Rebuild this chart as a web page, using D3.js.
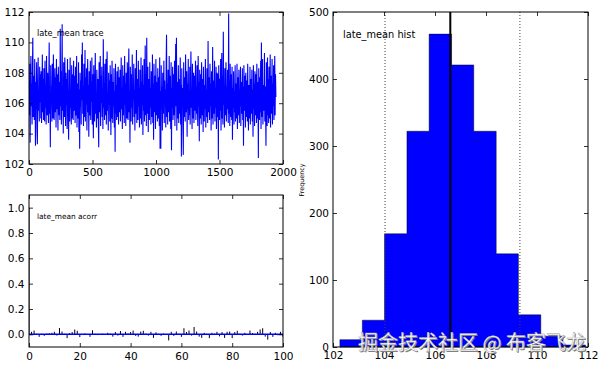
<!DOCTYPE html>
<html><head><meta charset="utf-8">
<script src="https://cdn.jsdelivr.net/npm/d3@7"></script>
<style>
html,body{margin:0;padding:0;background:#fff;}
svg{display:block;font-family:"DejaVu Sans",sans-serif;}
</style></head>
<body>
<svg id="chart" width="602" height="368"></svg>
<script>
// ---------------- data ----------------
const traceStep = 3; // iteration spacing of the sampled trace values below
const traceValues = [
107.5,105.2,108.6,103.4,106.9,109.1,105.8,107.3,104.6,108.2,110.3,105.1,107.8,106.2,104.9,108.9,106.5,103.2,107.4,105.6,
108.7,104.3,103.3,107.0,109.0,105.5,106.8,104.8,108.4,106.1,107.9,105.0,108.1,104.7,106.6,109.2,105.4,107.6,104.9,108.3,
106.0,104.8,108.8,105.7,107.2,104.6,109.1,106.4,105.2,108.0,106.9,104.7,107.5,110.0,105.3,106.7,103.1,108.5,105.9,107.1,
104.8,108.6,106.3,105.0,109.2,107.0,104.9,106.5,108.3,105.4,107.7,104.4,108.9,106.0,105.6,107.9,104.2,108.4,106.8,105.2,
107.4,104.9,110.9,105.8,108.1,104.6,107.2,111.2,105.5,106.9,104.0,108.7,106.2,105.1,109.0,106.6,104.5,108.0,105.9,107.6,
104.3,108.9,106.1,105.3,103.6,108.2,107.0,104.8,109.0,105.7,106.8,104.6,108.5,106.3,105.0,107.9,104.9,108.8,106.4,105.5,
107.8,104.7,108.4,106.0,105.2,109.1,104.4,107.3,106.6,105.0,108.7,104.1,106.9,103.0,108.0,105.8,107.5,104.6,109.2,106.2,
110.0,105.3,107.1,104.5,108.6,106.4,105.1,109.5,104.8,107.7,105.9,108.3,104.2,106.8,108.9,105.4,107.2,103.8,108.1,106.0,
105.2,108.8,104.9,107.4,106.1,109.0,104.6,107.9,105.6,103.7,108.5,106.7,104.8,107.0,109.3,105.3,106.5,104.4,108.2,106.9,
105.0,107.6,104.7,103.1,108.7,106.2,105.4,109.1,104.5,107.8,106.0,108.4,105.1,106.9,104.3,110.2,105.7,107.3,104.9,108.6,
106.4,105.2,108.9,104.6,107.1,109.4,105.5,106.7,104.2,108.0,105.9,107.5,104.8,108.5,106.3,103.9,107.9,105.0,108.8,106.1,
104.7,107.4,105.8,108.3,104.4,106.8,102.8,108.6,105.3,107.2,104.9,108.1,106.0,105.1,108.4,104.6,107.7,106.5,105.4,108.2,
104.8,107.0,109.0,105.6,106.4,104.3,108.5,106.9,105.2,107.8,104.7,109.1,105.9,107.3,104.5,108.0,106.2,105.0,108.7,106.6,
104.9,107.5,109.6,105.4,106.8,103.4,108.4,106.1,104.8,107.9,105.7,109.2,104.6,107.1,106.3,108.6,105.1,106.9,104.2,108.3,
106.0,105.3,109.5,104.7,107.6,106.2,104.9,108.8,105.8,107.0,104.4,108.2,106.5,105.0,109.0,104.6,107.4,105.9,108.5,103.9,
107.2,105.5,108.9,104.8,106.7,109.8,105.2,107.9,104.5,110.3,106.1,105.3,108.4,104.1,107.6,106.4,104.9,108.7,105.7,107.0,
104.6,108.1,106.3,105.1,109.2,104.7,107.3,103.6,108.6,106.0,105.4,107.8,104.3,108.9,106.6,105.2,107.4,104.8,108.3,106.2,
105.0,107.7,104.5,109.0,103.0,106.8,103.0,108.5,105.6,107.1,104.2,108.0,106.4,105.3,108.8,104.7,107.5,105.9,106.9,104.4,
108.6,110.5,105.1,107.3,104.6,108.2,106.0,105.4,109.1,104.8,107.8,106.3,104.3,108.7,102.9,107.0,105.7,108.4,104.9,106.6,
107.9,105.2,108.8,104.5,106.7,109.9,105.8,110.3,104.2,107.4,106.1,105.0,108.5,104.7,107.6,106.4,105.3,109.0,104.6,107.2,
102.5,108.3,105.9,107.0,104.4,102.6,108.7,106.2,105.1,107.7,104.8,109.2,106.5,105.4,108.1,103.8,107.3,105.6,108.9,104.9,
106.8,105.2,108.4,104.6,107.5,109.4,105.7,106.3,104.3,108.6,106.0,105.0,108.0,104.7,107.8,106.6,105.5,108.8,104.9,107.1,
105.3,108.5,106.1,104.5,109.1,105.8,107.4,103.5,108.2,106.7,105.0,107.9,104.6,108.7,106.3,105.2,107.6,104.1,108.4,106.0,
104.8,107.2,105.6,108.9,104.4,106.9,105.1,108.3,106.5,104.7,110.1,105.4,107.7,106.0,104.9,108.6,105.8,107.3,104.2,108.1,
106.4,105.0,109.7,104.6,107.5,106.2,105.3,108.8,104.8,107.0,105.7,108.4,104.3,106.8,108.0,105.1,107.9,102.3,108.5,106.1,
104.9,107.6,105.5,108.9,104.2,106.7,109.3,105.0,107.8,104.6,110.7,105.9,107.2,104.4,108.3,106.4,105.2,108.7,104.8,107.1,
105.6,108.2,106.0,104.7,111.9,105.3,107.5,104.5,108.6,106.3,105.1,107.9,104.9,108.4,103.6,107.0,105.7,108.1,104.6,106.8,
105.4,108.5,104.8,107.3,106.1,105.0,108.6,104.3,107.7,106.4,105.2,108.2,104.7,106.9,105.8,108.4,104.5,107.4,106.0,105.3,
108.3,104.9,107.1,103.2,108.5,106.2,105.5,107.8,104.4,108.0,106.6,105.1,107.5,104.8,108.6,105.9,104.2,107.2,106.3,105.0,
108.4,104.6,107.6,106.0,105.3,108.2,104.8,106.9,103.8,108.5,105.6,107.3,104.5,108.1,106.4,105.2,107.9,104.7,108.6,106.1,
105.0,107.4,102.4,108.3,106.5,104.9,107.7,105.4,108.8,104.3,110.0,106.2,105.1,108.9,104.6,107.2,106.0,105.5,109.3,104.8,
107.1,105.6,103.2,108.7,106.3,104.5,109.0,105.2,107.6,104.7,108.4,106.1,105.0,109.2,104.4,107.8,106.6,105.3,108.9,104.6,
107.3,105.8,108.5,104.9,106.7,109.1,105.2,107.9,106.4
];
const traceXTicks = [0, 500, 1000, 1500, 2000];
const traceYTicks = [102, 104, 106, 108, 110, 112];

const acorrLags = d3.range(0, 101);
const acorrValues = [1.0,
0.02,0.03,0.005,-0.02,0.004,-0.012,0.006,0.008,0.012,0.02,
-0.01,0.05,0.022,0.004,-0.03,0.01,0.018,0.038,0.028,-0.022,
0.003,0.006,-0.004,-0.02,0.032,0.004,-0.006,0.003,0.005,-0.004,
0.012,0.006,-0.018,0.018,-0.01,0.026,-0.02,0.02,0.006,0.018,
0.03,-0.012,-0.018,0.022,0.028,0.005,-0.01,0.02,-0.028,0.016,
0.004,-0.012,0.006,-0.005,-0.048,0.02,-0.012,0.022,0.004,-0.02,
0.048,0.018,0.03,-0.01,0.058,0.022,-0.018,-0.028,0.012,0.004,
-0.03,0.012,0.005,0.02,-0.016,0.018,-0.028,0.02,0.022,-0.03,
0.018,0.028,0.004,-0.01,0.012,-0.004,0.03,0.01,0.005,0.02,
0.038,0.048,-0.018,-0.042,0.018,-0.02,0.012,-0.008,0.02,-0.02];
const acorrXTicks = [0, 20, 40, 60, 80, 100];
const acorrYTicks = [0.0, 0.2, 0.4, 0.6, 0.8, 1.0];

const histEdges = [102.27,103.15,104.02,104.90,105.77,106.65,107.52,108.40,109.27,110.15,111.02,111.90];
const histCounts = [11,40,169,322,467,421,322,139,48,16,3];
const histMean = 106.6;
const histHPD = [104.04, 109.33];
const histXTicks = [102, 104, 106, 108, 110, 112];
const histYTicks = [0, 100, 200, 300, 400, 500];

const titles = ["late_mean trace", "late_mean acorr", "late_mean hist"];
const yLabelHist = "Frequency";
const watermark = "掘金技术社区 @ 布客飞龙";

// ---------------- drawing ----------------
const svg = d3.select("#chart");
const FS = 10.5;

function frame(g, w, h, x, y, xt, yt, xfmt, yfmt, padX, padY) {
  const bottom = g.append("g").attr("transform", `translate(0,${h})`)
    .call(d3.axisBottom(x).tickValues(xt).tickSizeInner(-4).tickSizeOuter(0).tickPadding(padX).tickFormat(xfmt));
  const top = g.append("g")
    .call(d3.axisTop(x).tickValues(xt).tickSizeInner(-4).tickSizeOuter(0).tickFormat(""));
  const left = g.append("g")
    .call(d3.axisLeft(y).tickValues(yt).tickSizeInner(-4).tickSizeOuter(0).tickPadding(padY).tickFormat(yfmt));
  const right = g.append("g").attr("transform", `translate(${w},0)`)
    .call(d3.axisRight(y).tickValues(yt).tickSizeInner(-4).tickSizeOuter(0).tickFormat(""));
  [bottom, top, left, right].forEach(a => {
    a.select(".domain").remove();
    a.selectAll("line").attr("stroke", "#000").attr("stroke-width", 0.8);
    a.selectAll("text").attr("font-size", FS).attr("fill", "#000").attr("font-family", "DejaVu Sans");
  });
  g.append("rect").attr("width", w).attr("height", h)
    .attr("fill", "none").attr("stroke", "#000").attr("stroke-width", 1);
}

// ---- trace panel ----
{
  const L = 29, T = 12, W = 254, H = 152;
  const g = svg.append("g").attr("transform", `translate(${L},${T})`);
  const x = d3.scaleLinear().domain([0, 2000]).range([0, W]);
  const y = d3.scaleLinear().domain([102, 112]).range([H, 0]);
  g.append("clipPath").attr("id", "clipT").append("rect").attr("width", W).attr("height", H);
  const line = d3.line().x((d, i) => x(i * traceStep)).y(d => y(d));
  g.append("path").datum(traceValues).attr("d", line)
    .attr("fill", "none").attr("stroke", "#0000ff").attr("stroke-width", 1.1)
    .attr("clip-path", "url(#clipT)");
  frame(g, W, H, x, y, traceXTicks, traceYTicks, d3.format("d"), d3.format("d"), 4.5, 4.5);
  g.append("text").attr("x", 8).attr("y", 23.5).attr("font-size", 8.2).text(titles[0]);
}

// ---- acorr panel ----
{
  const L = 29, T = 195, W = 254, H = 152;
  const g = svg.append("g").attr("transform", `translate(${L},${T})`);
  const x = d3.scaleLinear().domain([0, 100]).range([0, W]);
  const y = d3.scaleLinear().domain([-0.1, 1.1]).range([H, 0]);
  g.append("clipPath").attr("id", "clipA").append("rect").attr("width", W).attr("height", H);
  const ga = g.append("g").attr("clip-path", "url(#clipA)");
  ga.selectAll("line.v").data(acorrLags).enter().append("line")
    .attr("x1", d => x(d)).attr("x2", d => x(d))
    .attr("y1", y(0)).attr("y2", (d, i) => y(acorrValues[i]))
    .attr("stroke", "#000").attr("stroke-width", 1);
  ga.append("line").attr("x1", 0).attr("x2", W).attr("y1", y(0)).attr("y2", y(0))
    .attr("stroke", "#0000ff").attr("stroke-width", 1.5);
  frame(g, W, H, x, y, acorrXTicks, acorrYTicks, d3.format("d"), d3.format(".1f"), 5.5, 4.5);
  g.append("text").attr("x", 8).attr("y", 24).attr("font-size", 7.4).text(titles[1]);
}

// ---- histogram panel (stepfilled) ----
{
  const L = 333, T = 12, W = 255, H = 335;
  const g = svg.append("g").attr("transform", `translate(${L},${T})`);
  const x = d3.scaleLinear().domain([102, 112]).range([0, W]);
  const y = d3.scaleLinear().domain([0, 500]).range([H, 0]);
  const pts = [[histEdges[0], 0]];
  histCounts.forEach((c, i) => { pts.push([histEdges[i], c]); pts.push([histEdges[i + 1], c]); });
  pts.push([histEdges[histEdges.length - 1], 0]);
  const stepLine = d3.line().x(d => x(d[0])).y(d => y(d[1]));
  g.append("path").datum(pts)
    .attr("d", d => stepLine(d) + "Z")
    .attr("fill", "#0000ff").attr("stroke", "#000").attr("stroke-opacity", 0.45).attr("stroke-width", 1);
  histHPD.forEach(v => {
    g.append("line").attr("x1", x(v)).attr("x2", x(v)).attr("y1", 0).attr("y2", H)
      .attr("stroke", "#444").attr("stroke-width", 1).attr("stroke-dasharray", "1,2");
  });
  g.append("line").attr("x1", x(histMean)).attr("x2", x(histMean)).attr("y1", 0).attr("y2", H)
    .attr("stroke", "#000").attr("stroke-width", 2);
  frame(g, W, H, x, y, histXTicks, histYTicks, d3.format("d"), d3.format("d"), 4.5, 4);
  g.append("text").attr("x", 10).attr("y", 25.5).attr("font-size", 9.8).text(titles[2]);
  svg.append("text").attr("transform", "translate(304,180) rotate(-90)")
    .attr("text-anchor", "middle").attr("font-size", 6.4).text(yLabelHist);
}

// ---- watermark ----
{
  const wm = svg.append("g").attr("font-family", "'Noto Sans CJK SC', sans-serif").attr("font-size", 20);
  wm.append("text").attr("x", 359).attr("y", 351).attr("fill", "#777").text(watermark);
  wm.append("text").attr("x", 358).attr("y", 350).attr("fill", "#fff")
    .attr("stroke", "#999").attr("stroke-width", 0.4).text(watermark);
}
</script>
</body></html>
